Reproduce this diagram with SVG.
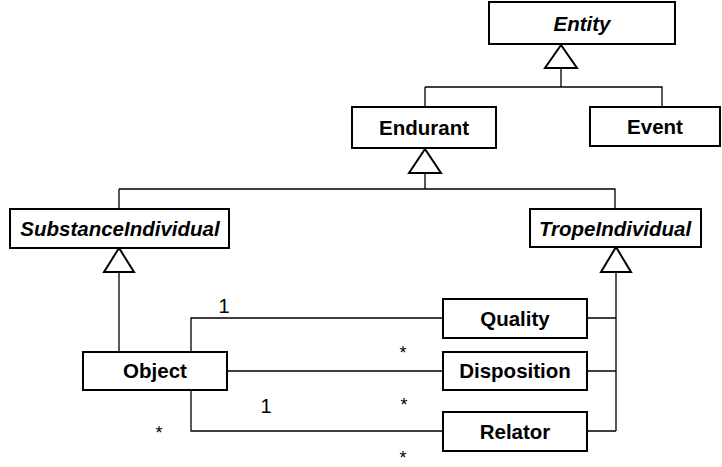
<svg xmlns="http://www.w3.org/2000/svg" width="722" height="467" viewBox="0 0 722 467">
<style>
.box{fill:#fff;stroke:#000;stroke-width:2}
.t{font-family:"Liberation Sans",Arial,sans-serif;font-size:20.5px;font-weight:bold;text-anchor:middle;fill:#000}
.it{font-style:italic}
.m{font-family:"Liberation Sans",Arial,sans-serif;font-size:20px;text-anchor:middle;fill:#000}
.s{font-family:"Liberation Sans",Arial,sans-serif;font-size:18px;text-anchor:middle;fill:#000}
.c{fill:none;stroke:#000;stroke-width:1.3}
.tri{fill:#fff;stroke:#000;stroke-width:2;stroke-linejoin:miter}
</style>
<g id="connectors">
<path class="c" d="M561 68V87M425 87H662V107M425 87V107"/>
<path class="c" d="M425 173V189M119 189H615V209M119 189V209"/>
<path class="c" d="M119 272V352"/>
<path class="c" d="M616 272V431M587 318H616M587 371H616M587 431H616"/>
<path class="c" d="M191 352V318H443M227 371H443M191 390V431H443"/>
<polygon class="tri" points="561,45 545,68 577,68"/>
<polygon class="tri" points="425,149 409,173 441,173"/>
<polygon class="tri" points="119,248 104,272 134,272"/>
<polygon class="tri" points="616,247 601,272 631,272"/>
<text class="m" x="224" y="313">1</text>
<text class="m" x="266" y="413">1</text>
<text class="s" x="159" y="439">*</text>
<text class="s" x="403" y="359">*</text>
<text class="s" x="404" y="411">*</text>
<text class="s" x="403" y="463.5">*</text>
</g>
<g id="entity"><rect class="box" x="489" y="2" width="186" height="42"/><text class="t it" x="582" y="31">Entity</text></g>
<g id="endurant"><rect class="box" x="352" y="107" width="144" height="41"/><text class="t" x="424" y="135">Endurant</text></g>
<g id="event"><rect class="box" x="590" y="107" width="130" height="39"/><text class="t" x="655" y="134">Event</text></g>
<g id="substance"><rect class="box" x="10" y="209" width="219" height="39"/><text class="t it" x="120" y="236">SubstanceIndividual</text></g>
<g id="trope"><rect class="box" x="530" y="209" width="171" height="38"/><text class="t it" x="615" y="236">TropeIndividual</text></g>
<g id="object"><rect class="box" x="83" y="352" width="144" height="38"/><text class="t" x="155" y="378">Object</text></g>
<g id="quality"><rect class="box" x="443" y="299" width="144" height="39"/><text class="t" x="515" y="326">Quality</text></g>
<g id="disposition"><rect class="box" x="443" y="352" width="144" height="38"/><text class="t" x="515" y="378">Disposition</text></g>
<g id="relator"><rect class="box" x="443" y="412" width="144" height="39"/><text class="t" x="515" y="439">Relator</text></g>
</svg>
